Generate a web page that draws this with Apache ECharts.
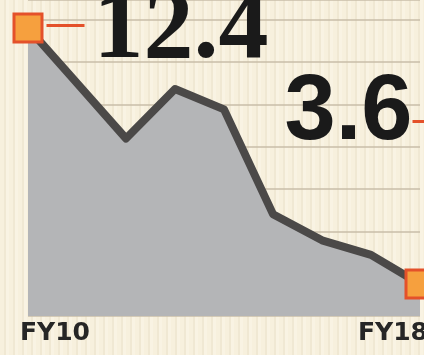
<!DOCTYPE html>
<html>
<head>
<meta charset="utf-8">
<script src="https://cdn.jsdelivr.net/npm/echarts@6/dist/echarts.min.js"></script>
<style>
html,body{margin:0;padding:0;}
body{width:424px;height:355px;overflow:hidden;
background:repeating-linear-gradient(90deg,#f7f0dd 0px,#f7f0dd 4px,#f0e8d3 4px,#f0e8d3 6px,#f9f3e3 6px,#f9f3e3 9px);}
#c{width:424px;height:355px;}
</style>
</head>
<body>
<div id="c"></div>
<script>
var categories = ['FY10','FY11','FY12','FY13','FY14','FY15','FY16','FY17','FY18'];
var values = [12.4, 10.5, 8.6, 10.3, 9.6, 6.0, 5.1, 4.6, 3.6];
var shownLabels = ['FY10','FY18'];

var chart = echarts.init(document.getElementById('c'), null, {renderer:'canvas'});
var last = values.length - 1;
var markerStyle = {color:'#f6a03e', borderColor:'#e4512a', borderWidth:3};
var data = values.map(function(v,i){
  if(i===0){
    return {value:v, symbol:'rect', symbolSize:28, itemStyle:markerStyle,
      label:{show:true, position:'right', distance:3, offset:[0,3],
        formatter:function(p){return '{ln|}{big|'+p.value+'}';},
        rich:{
          ln:{width:38, height:3, backgroundColor:'#e4512a', verticalAlign:'top'},
          big:{fontFamily:'Liberation Serif', fontWeight:'bold', fontSize:100, lineHeight:14, color:'#1a1a1a', padding:[0,0,0,9]}
        }}};
  }
  if(i===last){
    return {value:v, symbol:'rect', symbolSize:28, itemStyle:markerStyle,
      label:{show:true, position:'left', distance:0, offset:[24,-170],
        formatter:function(p){return '{mid|'+p.value+'}{ln|}';},
        rich:{
          mid:{fontFamily:'Liberation Sans', fontWeight:'bold', fontSize:92, lineHeight:18, color:'#1a1a1a'},
          ln:{width:16, height:3, backgroundColor:'#e4512a', verticalAlign:'bottom'}
        }}};
  }
  return {value:v, symbol:'none'};
});

chart.setOption({
  animation:false,
  backgroundColor:'transparent',
  grid:{left:28, right:4, top:0, bottom:39, containLabel:false, outerBoundsMode:'none'},
  xAxis:{type:'category', data:categories, boundaryGap:false,
    axisLine:{show:false}, axisTick:{show:false}, splitLine:{show:false},
    axisLabel:{interval:0, margin:4, color:'#262626', hideOverlap:false,
      formatter:function(v,i){ if(v===shownLabels[0]) return '{l|'+v+'}'; if(v===shownLabels[1]) return '{r|'+v+'}'; return ''; },
      rich:{
        l:{fontFamily:'DejaVu Sans', fontWeight:'bold', fontSize:25, lineHeight:26, color:'#262626', padding:[0,0,0,54]},
        r:{fontFamily:'DejaVu Sans', fontWeight:'bold', fontSize:25, lineHeight:26, color:'#262626', padding:[0,54,0,0]}
      }}},
  yAxis:[
    {type:'value', min:2.5, max:13.36, show:true, axisLine:{show:false}, axisTick:{show:false}, axisLabel:{show:false}, splitLine:{show:false}},
    {type:'value', min:0, max:7.47, interval:1, axisLine:{show:false}, axisTick:{show:false}, axisLabel:{show:false},
      splitLine:{show:true, lineStyle:{color:'#c8bea9', width:1.5}}}
  ],
  series:[{
    type:'line', yAxisIndex:0, data:data, symbol:'none',
    lineStyle:{color:'#4b4948', width:8, cap:'round', join:'round'},
    itemStyle:{color:'#4b4948'},
    areaStyle:{color:'#b4b5b7', opacity:1, origin:'start'},
    z:3
  }]
});
</script>
</body>
</html>
